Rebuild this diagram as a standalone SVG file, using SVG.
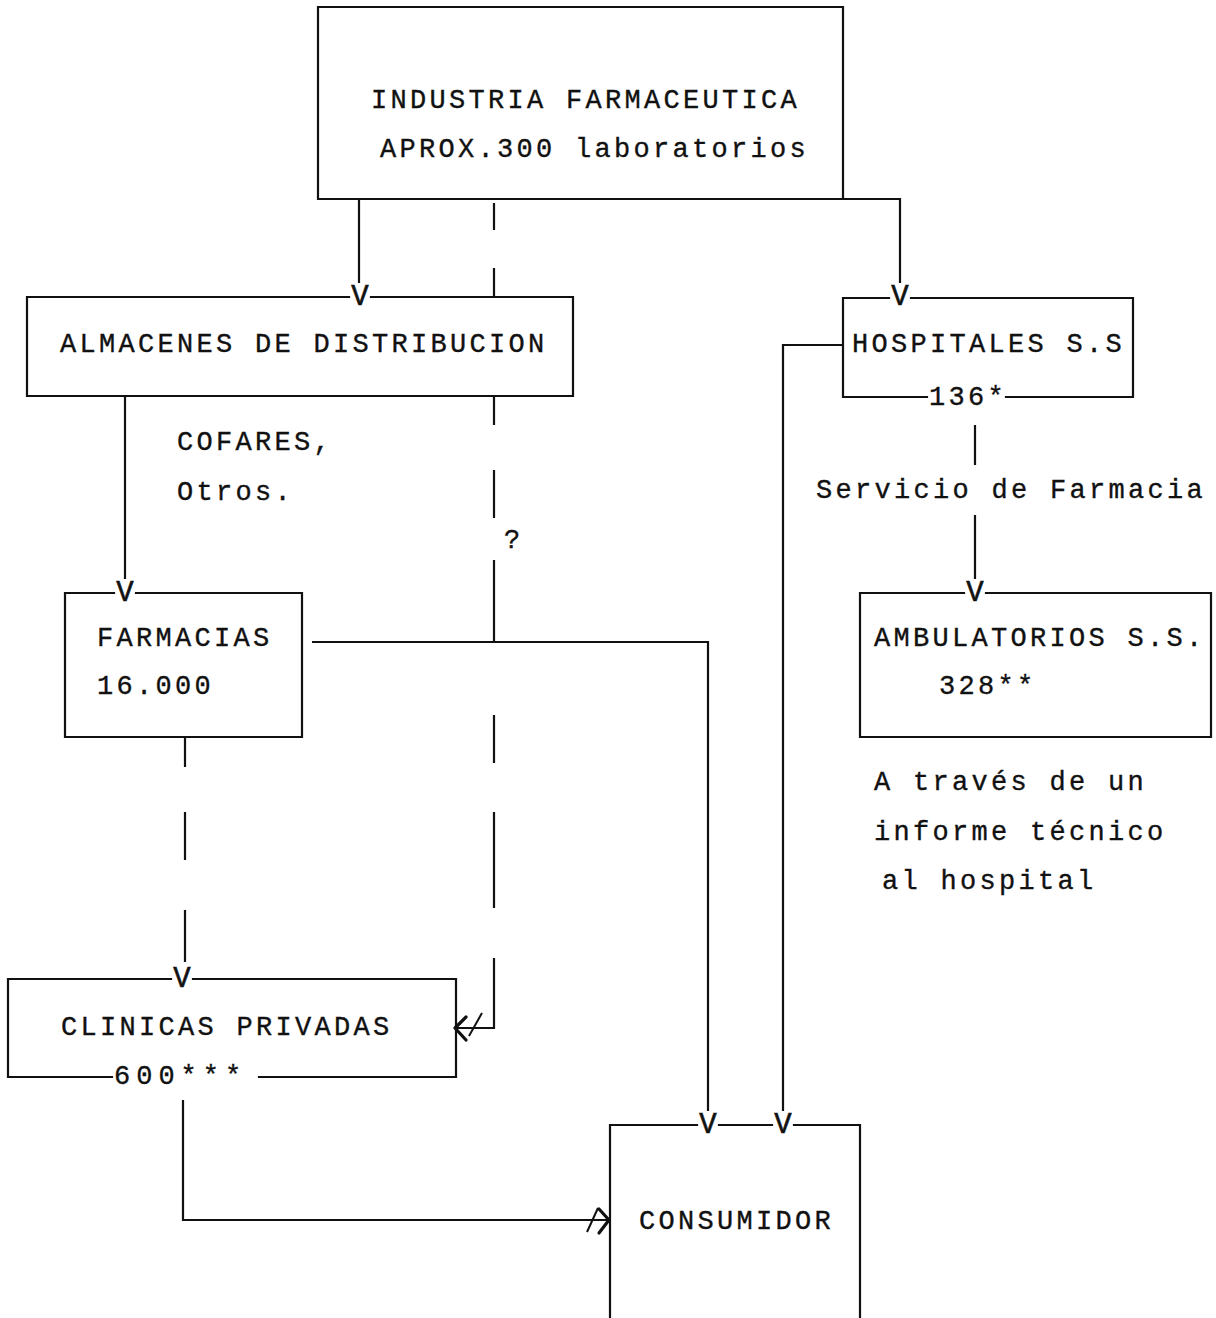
<svg xmlns="http://www.w3.org/2000/svg" width="1216" height="1318" viewBox="0 0 1216 1318">
  <style>
    .bg { fill: #ffffff; }
    .edge { fill: none; stroke: #111; stroke-width: 2.2; stroke-linecap: square; }
    .line { fill: none; stroke: #111; stroke-width: 2.2; }
    .head { fill: none; stroke: #111; stroke-width: 3.2; stroke-linecap: round; stroke-linejoin: round; }
    .slash { fill: none; stroke: #111; stroke-width: 2; }
    text { font-family: "Liberation Mono", "DejaVu Sans Mono", monospace; font-size: 27px; letter-spacing: 3.3px; fill: #111; stroke: #111; stroke-width: 0.35; }
    .arrowV { letter-spacing: 0; text-anchor: middle; font-size: 29px; stroke-width: 0.6; }
    .wide { letter-spacing: 6px; }
  </style>

  <rect class="bg" x="0" y="0" width="1216" height="1318"/>

  <!-- Connectors -->
  <g id="connectors">
    <!-- Industria -> Almacenes -->
    <path class="line" d="M359,199 V283"/>
    <!-- Industria -> Hospitales -->
    <path class="line" d="M843,199 H900 V283"/>
    <!-- Industria -> Clinicas (dashed route with "?") -->
    <path class="line" d="M494,203 V230 M494,268 V297 M494,396 V425 M494,470 V518 M494,560 V642 M494,715 V763 M494,812 V908 M494,958 V1028 H456"/>
    <path class="head" d="M466,1017 L455,1028 L466,1040"/>
    <path class="slash" d="M469,1036 L482,1013"/>
    <!-- Almacenes -> Farmacias -->
    <path class="line" d="M125,396 V579"/>
    <!-- Farmacias -> Consumidor -->
    <path class="line" d="M312,642 H708 V1111"/>
    <!-- Hospitales -> Consumidor -->
    <path class="line" d="M843,345 H783 V1111"/>
    <!-- Hospitales -> Ambulatorios -->
    <path class="line" d="M975,425 V465 M975,515 V579"/>
    <!-- Farmacias -> Clinicas (dashed) -->
    <path class="line" d="M185,737 V767 M185,812 V860 M185,910 V962"/>
    <!-- Clinicas -> Consumidor -->
    <path class="line" d="M183,1100 V1220 H608"/>
    <path class="head" d="M599,1209 L609,1220 L599,1233"/>
    <path class="slash" d="M587,1232 L598,1208"/>
  </g>

  <!-- Industria farmaceutica -->
  <g id="industria">
    <path class="edge" d="M318,7 H843 V199 H318 Z"/>
    <text x="371" y="108">INDUSTRIA FARMACEUTICA</text>
    <text x="380" y="157">APROX.300 laboratorios</text>
  </g>

  <!-- Almacenes de distribucion -->
  <g id="almacenes">
    <path class="edge" d="M349,297 H27 V396 H573 V297 H371"/>
    <text class="arrowV" x="360" y="305">V</text>
    <text x="60" y="352">ALMACENES DE DISTRIBUCION</text>
  </g>

  <g id="almacenes-note">
    <text x="177" y="450">COFARES,</text>
    <text x="177" y="500">Otros.</text>
  </g>

  <g id="question">
    <text x="504" y="548">?</text>
  </g>

  <!-- Hospitales S.S -->
  <g id="hospitales">
    <path class="edge" d="M889,298 H843 V397 H927 M1006,397 H1133 V298 H911"/>
    <text class="arrowV" x="900" y="305">V</text>
    <text x="852" y="352">HOSPITALES S.S</text>
    <text x="929" y="405">136*</text>
  </g>

  <g id="servicio">
    <text x="816" y="498">Servicio de Farmacia</text>
  </g>

  <!-- Farmacias -->
  <g id="farmacias">
    <path class="edge" d="M114,593 H65 V737 H302 V593 H136"/>
    <text class="arrowV" x="125" y="601">V</text>
    <text x="97" y="646">FARMACIAS</text>
    <text x="97" y="694">16.000</text>
  </g>

  <!-- Ambulatorios S.S. -->
  <g id="ambulatorios">
    <path class="edge" d="M964,593 H860 V737 H1211 V593 H986"/>
    <text class="arrowV" x="975" y="601">V</text>
    <text x="874" y="646">AMBULATORIOS S.S.</text>
    <text x="939" y="694">328**</text>
  </g>

  <g id="ambulatorios-note">
    <text x="874" y="790">A través de un</text>
    <text x="874" y="840">informe técnico</text>
    <text x="882" y="889">al hospital</text>
  </g>

  <!-- Clinicas privadas -->
  <g id="clinicas">
    <path class="edge" d="M171,979 H8 V1077 H112 M259,1077 H456 V979 H193"/>
    <text class="arrowV" x="182" y="987">V</text>
    <text x="61" y="1035">CLINICAS PRIVADAS</text>
    <text class="wide" x="114" y="1084">600***</text>
  </g>

  <!-- Consumidor -->
  <g id="consumidor">
    <path class="edge" d="M697,1125 H610 V1318 M719,1125 H772 M794,1125 H860 V1318"/>
    <text class="arrowV" x="708" y="1133">V</text>
    <text class="arrowV" x="783" y="1133">V</text>
    <text x="639" y="1229">CONSUMIDOR</text>
  </g>
</svg>
